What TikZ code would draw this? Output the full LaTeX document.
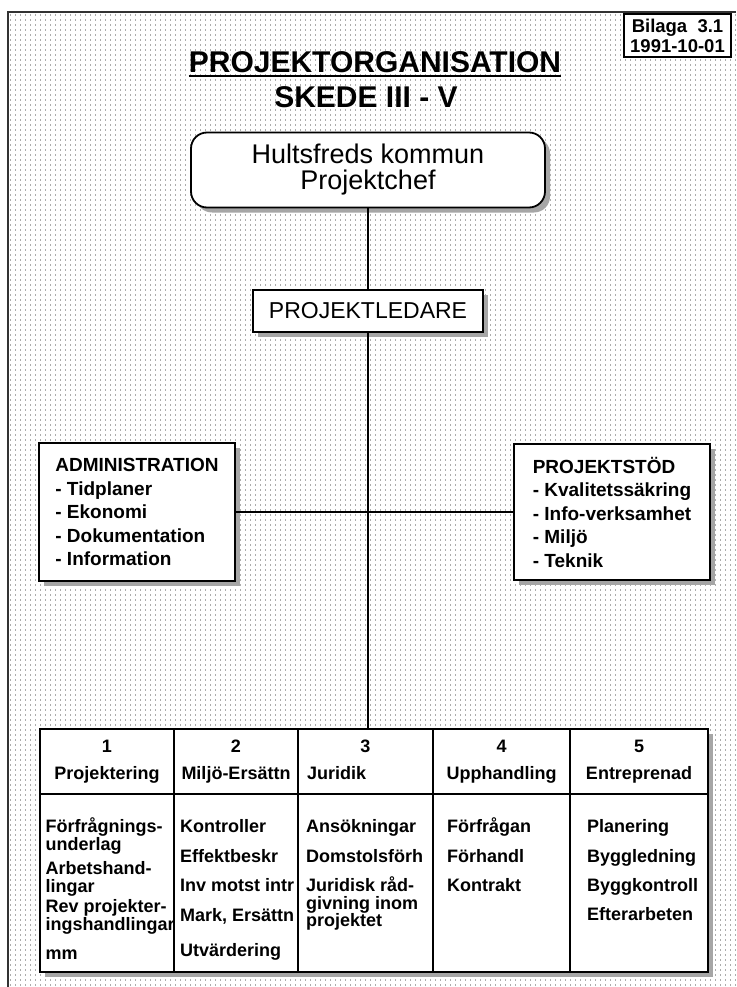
\documentclass[tikz,border=0pt]{standalone}
\usepackage{fontspec}
\setmainfont{Liberation Sans}
\usetikzlibrary{shadows}
\newcommand\titlefont{\fontsize{30}{30}\bfseries\selectfont}
\newcommand\boxfont{\fontsize{19}{23.5}\bfseries\selectfont}
\newcommand\tabfont{\fontsize{18}{17.5}\bfseries\selectfont\lineskiplimit=-20pt}
\newcommand\headfont{\fontsize{18}{27}\bfseries\selectfont}
\newcommand\headtext[2]{\rule{0pt}{14pt}#1\\#2\rule[-5pt]{0pt}{5pt}}
\tikzset{dotrow/.style={gray!65,line width=1.2pt,dash pattern=on 1.2pt off 3.8pt},
  frame/.style={black!80,line width=2pt},
  box/.style={draw,line width=1.8pt,fill=white,outer sep=0pt,
    drop shadow={shadow xshift=5pt,shadow yshift=-5pt,fill=gray!70,opacity=1}},
  conn/.style={line width=2pt},
  cell/.style={draw,line width=2.2pt,fill=white,outer sep=0pt,inner sep=0pt,align=center,font=\headfont},
  tabtext/.style={anchor=north west,inner sep=0pt,align=left,font=\tabfont}}

\begin{document}
\begin{tikzpicture}[x=1pt,y=-1pt]
    \useasboundingbox (0,0) rectangle (736,987);

    % dotted paper
    \foreach \y in {15,20,...,985}
      \draw[dotrow] (10,\y) -- (736,\y);
    \draw[frame] (7.5,987) -- (7.5,12) -- (736,12);

    % heading
    \node[font=\titlefont,inner sep=0pt] (title) at (375,62) {PROJEKTORGANISATION};
    \draw[line width=2.5pt] ([yshift=-3pt]title.south west) -- ([yshift=-3pt]title.south east);
    \node[font=\titlefont,inner sep=0pt] (skede) at (366,97) {SKEDE III - V};
    \node[draw,line width=1.5pt,fill=white,minimum width=107pt,minimum height=43pt,align=center,
      font=\fontsize{18.5}{20}\bfseries\selectfont] (bilaga) at (677.5,35.5) {Bilaga\ \ 3.1\\1991-10-01};

    % top of the organisation
    \node[box,rounded corners=16pt,minimum width=354pt,minimum height=75pt,align=center,
      font=\fontsize{27}{26}\selectfont] (chef) at (368,170) {Hultsfreds kommun\\Projektchef};
    \node[box,minimum width=230pt,minimum height=42pt,font=\fontsize{23}{23}\selectfont] (leder) at (368,311) {PROJEKTLEDARE};

    % staff boxes
    \node[box,minimum width=196pt,minimum height=138pt,align=left,font=\boxfont] (admin) at (137,512)
      {ADMINISTRATION\\- Tidplaner\\- Ekonomi\\- Dokumentation\\- Information};
    \node[box,minimum width=196pt,minimum height=136pt,align=left,font=\boxfont] (stod) at (612,512)
      {PROJEKTST\"OD\\- Kvalitetss\"akring\\- Info-verksamhet\\- Milj\"o\\- Teknik};

    % table of the five parts
    \coordinate (tabNW) at (40,729);
    \coordinate (tabSE) at (708,972);
    \fill[gray!70] ([shift={(5pt,-5pt)}]tabNW) rectangle ([shift={(5pt,-5pt)}]tabSE);
    \node[cell,minimum width=134pt,minimum height=65pt,anchor=north west] (h1) at (tabNW) {\headtext{1}{Projektering}};
    \node[cell,minimum width=124pt,minimum height=65pt,anchor=north west] (h2) at (h1.north east) {\headtext{2}{Milj\"o-Ers\"attn}};
    \node[cell,minimum width=135pt,minimum height=65pt,anchor=north west] (h3) at (h2.north east) {\headtext{3}{\makebox[117pt][l]{Juridik}}};
    \node[cell,minimum width=137pt,minimum height=65pt,anchor=north west] (h4) at (h3.north east) {\headtext{4}{Upphandling}};
    \node[cell,minimum width=138pt,minimum height=65pt,anchor=north west] (h5) at (h4.north east) {\headtext{5}{Entreprenad}};
    \foreach \i/\w in {1/134,2/124,3/135,4/137,5/138}
      \node[cell,minimum width=\w pt,minimum height=178pt,anchor=north west] (b\i) at (h\i.south west) {};

    \node[tabtext] (t1) at ([xshift=5.5pt,yshift=-21.5pt]b1.north west)
      {\rule{0pt}{17pt}F\"orfr\aa gnings-\\underlag\\[7pt]Arbetshand-\\lingar\\[3pt]Rev projekter-\\ingshandlingar\\[12pt]mm};
    \node[tabtext] (t2) at ([xshift=6pt,yshift=-21.5pt]b2.north west)
      {\rule{0pt}{17pt}Kontroller\\[12.5pt]Effektbeskr\\[11.5pt]Inv motst intr\\[12.5pt]Mark, Ers\"attn\\[17.5pt]Utv\"ardering};
    \node[tabtext] (t3) at ([xshift=8pt,yshift=-21.5pt]b3.north west)
      {\rule{0pt}{17pt}Ans\"okningar\\[12.5pt]Domstolsf\"orh\\[11.5pt]Juridisk r\aa d-\\givning inom\\projektet};
    \node[tabtext] (t4) at ([xshift=14pt,yshift=-21.5pt]b4.north west)
      {\rule{0pt}{17pt}F\"orfr\aa gan\\[12.5pt]F\"orhandl\\[11.5pt]Kontrakt};
    \node[tabtext] (t5) at ([xshift=17pt,yshift=-21.5pt]b5.north west)
      {\rule{0pt}{17pt}Planering\\[12.5pt]Byggledning\\[11.5pt]Byggkontroll\\[11.5pt]Efterarbeten};

    % connectors
    \draw[conn] (chef.south) -- (leder.north);
    \draw[conn] (leder.south) -- (leder.south |- h3.north);
    \draw[conn] (admin.east) -- (stod.west);
\end{tikzpicture}
\end{document}
